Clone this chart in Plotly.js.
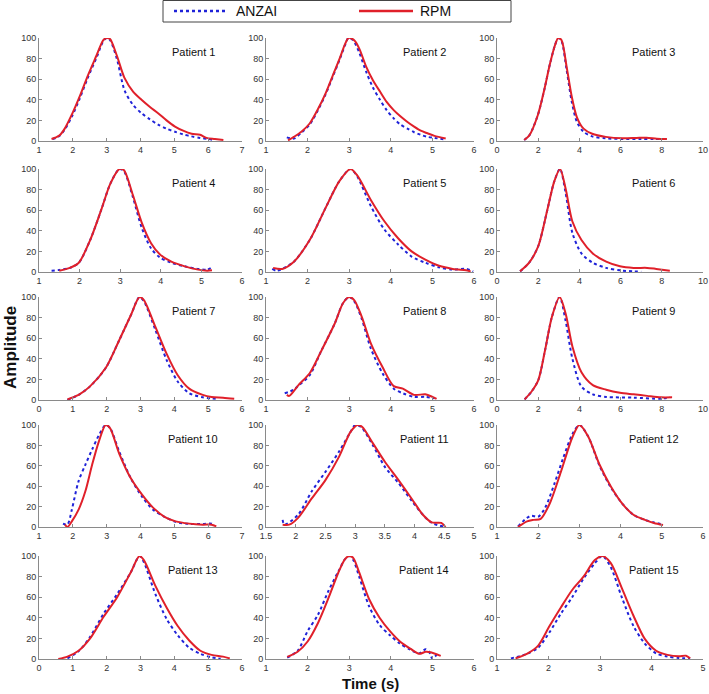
<!DOCTYPE html>
<html>
<head>
<meta charset="utf-8">
<script src="https://cdn.plot.ly/plotly-3.0.1.min.js"></script>
<style>
  html, body { margin: 0; padding: 0; background: #fff; }
  #chart { width: 709px; height: 694px; }
</style>
</head>
<body>
<div id="chart"></div>
<script>
// amplitude curves, time in s, amplitude in %
const p1AnzaiT = [1.4, 1.5, 1.61, 1.76, 1.99, 2.2, 2.45, 2.7, 2.9, 3.0, 3.1, 3.3, 3.53, 3.78, 4.03, 4.28, 4.52, 4.77, 5.02, 5.26, 5.51, 5.76, 6.0, 6.15];
const p1AnzaiA = [2, 3, 5, 11, 25, 41, 62, 81, 97, 100, 98, 80, 49, 35, 27, 21, 16, 12, 9, 6.5, 4.5, 3, 2, 1];
const p1RpmT = [1.37, 1.5, 1.61, 1.76, 1.99, 2.2, 2.45, 2.7, 2.9, 3.0, 3.1, 3.3, 3.53, 3.78, 4.03, 4.28, 4.52, 4.77, 5.02, 5.26, 5.51, 5.76, 5.95, 6.2, 6.45];
const p1RpmA = [2, 3.5, 5.5, 12, 27, 43, 64, 83, 98, 100, 99, 83, 61, 48, 40, 33, 27, 20, 14, 10, 7, 6, 3, 2, 1];

const p2AnzaiT = [1.5, 1.67, 1.85, 2.05, 2.25, 2.43, 2.6, 2.76, 2.9, 2.98, 3.06, 3.14, 3.25, 3.41, 3.57, 3.74, 3.9, 4.07, 4.23, 4.4, 4.56, 4.72, 4.88, 5.05, 5.32];
const p2AnzaiA = [3.5, 2.3, 8, 16, 30, 45, 62, 78, 93, 100, 99, 95, 85, 67, 52, 40, 30, 22, 16, 12, 8.5, 6, 4, 3, 1.3];
const p2RpmT = [1.53, 1.67, 1.85, 2.05, 2.25, 2.43, 2.6, 2.76, 2.9, 2.98, 3.06, 3.14, 3.25, 3.41, 3.57, 3.74, 3.9, 4.07, 4.23, 4.4, 4.56, 4.72, 4.88, 5.05, 5.32];
const p2RpmA = [0.6, 4, 9, 17, 31, 46, 63, 79, 94, 100, 99.5, 97, 89, 72, 59, 48, 38, 30, 24, 18.5, 14, 10, 7.5, 5, 2.5];

const p3AnzaiT = [1.32, 1.57, 1.98, 2.31, 2.56, 2.8, 2.97, 3.13, 3.38, 3.63, 3.88, 4.2, 4.62, 5.28, 6.1, 7.0, 7.6, 8.2];
const p3AnzaiA = [1, 5.5, 25, 51, 74, 92, 100, 97, 69, 38, 18.5, 9, 4.5, 2.6, 2, 2, 2, 2];
const p3RpmT = [1.32, 1.57, 1.98, 2.31, 2.56, 2.8, 2.97, 3.13, 3.38, 3.63, 3.88, 4.2, 4.62, 5.28, 6.1, 6.77, 7.26, 7.76, 8.25];
const p3RpmA = [1, 5.5, 25, 51, 74, 92, 100, 98, 72, 43, 23, 12, 7, 4, 2.6, 3, 3.2, 2.3, 2];

const p4AnzaiT = [1.31, 1.5, 1.76, 1.98, 2.26, 2.53, 2.76, 2.98, 3.09, 3.31, 3.53, 3.76, 3.98, 4.26, 4.59, 4.92, 5.14, 5.26];
const p4AnzaiA = [1.3, 2, 4, 9, 31, 60, 86, 100, 98, 73, 43, 23, 14, 9, 5.5, 3, 2.3, 4.5];
const p4RpmT = [1.5, 1.76, 1.98, 2.26, 2.53, 2.76, 2.98, 3.09, 3.31, 3.53, 3.76, 3.98, 4.26, 4.59, 4.92, 5.14, 5.26];
const p4RpmA = [1.3, 4, 9, 31, 60, 86, 100, 99, 75, 48, 28, 17, 10, 5.5, 2.3, 1.3, 1.6];

const p5AnzaiT = [1.15, 1.25, 1.39, 1.67, 2.05, 2.43, 2.76, 3.03, 3.19, 3.52, 3.85, 4.17, 4.5, 4.83, 5.16, 5.49, 5.81, 5.98];
const p5AnzaiA = [3, 1.3, 3, 10, 31, 62, 88, 100, 93, 64, 41, 27, 15, 9, 4.5, 2.3, 3, 0.6];
const p5RpmT = [1.17, 1.39, 1.67, 2.05, 2.43, 2.76, 3.03, 3.19, 3.52, 3.85, 4.17, 4.5, 4.83, 5.16, 5.49, 5.81, 5.92];
const p5RpmA = [4, 3, 10, 31, 62, 88, 100, 94, 70, 49, 33, 20, 12, 6, 3, 1.6, 0.6];

const p6AnzaiT = [1.12, 1.56, 2.0, 2.44, 2.78, 3.06, 3.33, 3.66, 4.1, 4.65, 5.3, 5.97, 6.63, 7.0];
const p6AnzaiA = [0.6, 9, 25, 60, 88, 100, 77, 38, 18, 9, 4, 1.6, 0.6, 0.3];
const p6RpmT = [1.12, 1.56, 2.0, 2.44, 2.78, 3.06, 3.33, 3.66, 4.1, 4.65, 5.3, 5.97, 6.63, 7.29, 7.73, 8.39];
const p6RpmA = [0.6, 9, 25, 60, 88, 100, 81, 49, 31, 18, 10, 5.5, 4, 4, 3, 1.3];

const p7AnzaiT = [0.84, 1.17, 1.5, 1.97, 2.37, 2.71, 2.97, 3.1, 3.44, 3.77, 4.1, 4.44, 4.84, 5.1, 5.3];
const p7AnzaiA = [0, 5, 13, 31, 58, 82, 100, 96, 68, 39, 18, 6.5, 2.6, 1.6, 1];
const p7RpmT = [0.84, 1.17, 1.5, 1.97, 2.37, 2.71, 2.97, 3.1, 3.44, 3.77, 4.1, 4.44, 4.84, 5.1, 5.44, 5.77];
const p7RpmA = [0.6, 5, 13, 31, 58, 82, 100, 97, 71, 45, 24, 11, 5, 3, 2.3, 1.3];

const p8AnzaiT = [1.45, 1.67, 1.78, 2.05, 2.32, 2.65, 2.85, 3.0, 3.12, 3.3, 3.52, 3.8, 4.07, 4.29, 4.56, 4.83, 5.05];
const p8AnzaiA = [6.5, 10, 14, 24, 47, 74, 94, 100, 96, 79, 50, 26, 11, 6.5, 3, 3, 1.6];
const p8RpmT = [1.5, 1.56, 1.78, 2.05, 2.32, 2.65, 2.85, 3.0, 3.12, 3.3, 3.52, 3.8, 4.07, 4.29, 4.56, 4.83, 5.0, 5.1];
const p8RpmA = [5, 4, 14.5, 26, 47, 74, 94, 100, 97, 81, 55, 32, 13.5, 11, 5, 5.5, 3, 1];

const p9AnzaiT = [1.34, 1.67, 2.0, 2.33, 2.67, 3.04, 3.33, 3.66, 4.1, 4.65, 5.3, 6.63, 7.95, 8.4];
const p9AnzaiA = [0.6, 8, 19, 48, 81, 100, 77, 40, 13, 5.5, 3, 2.3, 1.3, 2.6];
const p9RpmT = [1.34, 1.67, 2.0, 2.33, 2.67, 3.04, 3.33, 3.66, 4.1, 4.65, 5.3, 5.97, 6.63, 7.29, 7.95, 8.5];
const p9RpmA = [0.6, 8, 19, 48, 81, 100, 84, 52, 27, 14.5, 10, 7, 5.5, 4, 2.6, 2.6];

const p10AnzaiT = [1.71, 1.84, 1.97, 2.17, 2.37, 2.57, 2.77, 2.97, 3.1, 3.37, 3.71, 4.04, 4.37, 4.71, 5.04, 5.44, 5.84, 6.1, 6.17];
const p10AnzaiA = [3.3, 2.3, 17, 45, 61, 76, 90, 100, 97, 74, 48, 30, 17, 10, 5, 3, 3, 3.3, 1.3];
const p10RpmT = [1.77, 1.84, 1.97, 2.17, 2.37, 2.57, 2.77, 2.97, 3.1, 3.37, 3.71, 4.04, 4.37, 4.71, 5.04, 5.44, 5.84, 6.1, 6.24];
const p10RpmA = [2.3, 0, 5.5, 17, 35, 61, 84, 100, 97, 72, 48, 32, 19, 10, 5.5, 3.3, 2.3, 2.3, 0.6];

const p11AnzaiT = [1.78, 1.81, 2.04, 2.27, 2.5, 2.73, 2.92, 3.0, 3.1, 3.3, 3.5, 3.73, 3.96, 4.14, 4.29, 4.48];
const p11AnzaiA = [7, 2.3, 12, 35, 54, 74, 93, 100, 98, 80, 59, 43, 25, 12, 4, 0.6];
const p11RpmT = [1.78, 1.89, 2.04, 2.27, 2.5, 2.73, 2.92, 3.04, 3.12, 3.3, 3.5, 3.73, 3.96, 4.14, 4.29, 4.45, 4.52];
const p11RpmA = [2.3, 2.3, 9, 28, 46, 69, 93, 100, 98, 82, 64, 46, 27, 12, 4.5, 4, 0];

const p12AnzaiT = [1.51, 1.73, 1.84, 2.0, 2.17, 2.39, 2.61, 2.83, 3.0, 3.21, 3.49, 3.76, 4.04, 4.31, 4.59, 4.81, 4.97];
const p12AnzaiA = [0.6, 9, 11, 10, 19, 42, 68, 91, 100, 89, 60, 39, 23, 12, 7, 4.5, 3];
const p12RpmT = [1.51, 1.73, 1.89, 2.06, 2.28, 2.55, 2.83, 3.0, 3.21, 3.49, 3.76, 4.04, 4.31, 4.59, 4.81, 5.03];
const p12RpmA = [0, 5.5, 7, 8, 23, 54, 88, 100, 89, 61, 40, 23, 12, 7, 4, 2];

const p13AnzaiT = [0.84, 1.17, 1.5, 1.91, 2.31, 2.71, 2.97, 3.1, 3.44, 3.77, 4.1, 4.44, 4.77, 5.1, 5.37];
const p13AnzaiA = [0.6, 7.5, 21, 44, 63, 84, 100, 94, 63, 39, 23, 11, 5, 1.6, 0.3];
const p13RpmT = [0.57, 0.84, 1.17, 1.5, 1.91, 2.31, 2.71, 2.97, 3.1, 3.44, 3.77, 4.1, 4.44, 4.77, 5.1, 5.44, 5.64];
const p13RpmA = [0, 2.3, 8, 19.5, 41, 60, 84, 100, 96, 71, 50, 32, 18, 8, 4, 2.3, 0.6];

const p14AnzaiT = [1.51, 1.76, 2.0, 2.25, 2.5, 2.74, 2.9, 3.0, 3.1, 3.24, 3.48, 3.73, 3.98, 4.22, 4.47, 4.68, 4.84, 4.92, 5.0, 5.1];
const p14AnzaiA = [1.3, 8, 27, 43, 66, 85, 97, 100, 96, 80, 51, 33, 23, 15, 9, 5.5, 9.5, 7, 0.5, 4];
const p14RpmT = [1.51, 1.76, 2.0, 2.25, 2.5, 2.74, 2.9, 3.0, 3.1, 3.24, 3.48, 3.73, 3.98, 4.22, 4.47, 4.68, 4.84, 4.96, 5.2];
const p14RpmA = [2, 7, 17, 35, 59, 84, 97, 100, 98, 84, 58, 40, 27, 17, 10, 5, 7, 6.5, 3];

const p15AnzaiT = [1.27, 1.58, 1.8, 2.02, 2.24, 2.46, 2.68, 2.9, 3.05, 3.21, 3.43, 3.65, 3.87, 4.09, 4.31, 4.53, 4.75];
const p15AnzaiA = [0.6, 5, 11, 26, 44, 60, 78, 93, 100, 89, 59, 32, 15, 5.5, 2.3, 1, 0.6];
const p15RpmT = [1.36, 1.58, 1.8, 2.02, 2.24, 2.46, 2.68, 2.9, 3.05, 3.21, 3.43, 3.65, 3.87, 4.09, 4.31, 4.53, 4.67, 4.75];
const p15RpmA = [0.6, 5, 13, 32, 50, 67, 80, 96, 100, 93, 68, 42, 19.5, 8, 4, 2.6, 3.2, 0.6];

// x range and tick step of each panel
const xRanges = [[1, 7], [1, 6], [0, 10], [1, 6], [1, 6], [0, 10], [0, 6], [1, 6], [0, 10], [1, 7], [1.5, 5], [1, 6], [0, 6], [1, 6], [1, 5]];
const xSteps = [1, 1, 2, 1, 1, 2, 1, 1, 2, 1, 0.5, 1, 1, 1, 1];
const seriesNames = ["ANZAI", "RPM"];

const anzai = [
  [p1AnzaiT, p1AnzaiA], [p2AnzaiT, p2AnzaiA], [p3AnzaiT, p3AnzaiA], [p4AnzaiT, p4AnzaiA], [p5AnzaiT, p5AnzaiA],
  [p6AnzaiT, p6AnzaiA], [p7AnzaiT, p7AnzaiA], [p8AnzaiT, p8AnzaiA], [p9AnzaiT, p9AnzaiA], [p10AnzaiT, p10AnzaiA],
  [p11AnzaiT, p11AnzaiA], [p12AnzaiT, p12AnzaiA], [p13AnzaiT, p13AnzaiA], [p14AnzaiT, p14AnzaiA], [p15AnzaiT, p15AnzaiA],
];
const rpm = [
  [p1RpmT, p1RpmA], [p2RpmT, p2RpmA], [p3RpmT, p3RpmA], [p4RpmT, p4RpmA], [p5RpmT, p5RpmA],
  [p6RpmT, p6RpmA], [p7RpmT, p7RpmA], [p8RpmT, p8RpmA], [p9RpmT, p9RpmA], [p10RpmT, p10RpmA],
  [p11RpmT, p11RpmA], [p12RpmT, p12RpmA], [p13RpmT, p13RpmA], [p14RpmT, p14RpmA], [p15RpmT, p15RpmA],
];

const W = 709, H = 694;
const colPx = [[39, 242], [266, 474], [497, 703]];
const rowPx = [[38, 141], [169, 272], [297, 400], [425, 527], [556, 659]];
const BLUE = "#1f22d8", RED = "#e0202a";

const FONT = "Liberation Sans, Arial, sans-serif";
const px = (x) => x / W;
const py = (y) => 1 - y / H;

const traces = [];
const layout = {
  width: W,
  height: H,
  margin: { l: 0, r: 0, t: 0, b: 0 },
  paper_bgcolor: "#fff",
  plot_bgcolor: "rgba(0,0,0,0)",
  font: { family: FONT, color: "#222" },
  showlegend: false,
  annotations: [],
  // legend box drawn by hand so the sample lines can be as long as the original
  shapes: [
    { type: "rect", xref: "paper", yref: "paper", x0: px(163), x1: px(511), y0: py(22), y1: py(0.5),
      line: { color: "#444", width: 1 }, fillcolor: "#fff" },
    { type: "line", xref: "paper", yref: "paper", x0: px(174), x1: px(228), y0: py(11), y1: py(11),
      line: { color: BLUE, width: 2.5, dash: "dot" } },
    { type: "line", xref: "paper", yref: "paper", x0: px(359), x1: px(413), y0: py(11), y1: py(11),
      line: { color: RED, width: 2.5 } },
  ],
};

layout.annotations.push(
  { text: seriesNames[0], xref: "paper", yref: "paper", x: px(234), y: py(11), xanchor: "left", yanchor: "middle",
    showarrow: false, font: { size: 14, color: "#111" } },
  { text: seriesNames[1], xref: "paper", yref: "paper", x: px(418), y: py(11), xanchor: "left", yanchor: "middle",
    showarrow: false, font: { size: 14, color: "#111" } },
);

for (let i = 0; i < 15; i++) {
  const n = i + 1;
  const suf = n === 1 ? "" : String(n);
  const row = Math.floor(i / 3), col = i % 3;
  traces.push({
    x: anzai[i][0], y: anzai[i][1], xaxis: "x" + suf, yaxis: "y" + suf,
    type: "scatter", mode: "lines", name: seriesNames[0],
    line: { color: BLUE, width: 2, dash: "dot", shape: "spline", smoothing: 0.8 },
  });
  traces.push({
    x: rpm[i][0], y: rpm[i][1], xaxis: "x" + suf, yaxis: "y" + suf,
    type: "scatter", mode: "lines", name: seriesNames[1],
    line: { color: RED, width: 2, shape: "spline", smoothing: 0.8 },
  });
  const axisStyle = {
    showgrid: false, zeroline: false, showline: true,
    linecolor: "#8a8a8a", linewidth: 1,
    ticks: "inside", ticklen: 3, tickcolor: "#8a8a8a",
    tickfont: { size: 9, color: "#333", family: FONT },
    fixedrange: true,
  };
  layout["xaxis" + suf] = {
    ...axisStyle,
    domain: [px(colPx[col][0]), px(colPx[col][1])],
    range: xRanges[i], dtick: xSteps[i], tick0: 0,
    anchor: "y" + suf,
  };
  layout["yaxis" + suf] = {
    ...axisStyle,
    domain: [py(rowPx[row][1]), py(rowPx[row][0])],
    range: [0, 100], dtick: 20,
    anchor: "x" + suf,
  };
  layout.annotations.push({
    text: "Patient " + n, xref: "x" + suf + " domain", yref: "y" + suf + " domain",
    x: 0.76, y: 0.865, xanchor: "center", yanchor: "middle", showarrow: false,
    font: { size: 11, color: "#111" },
  });
}

layout.annotations.push({
  text: "<b>Amplitude</b>", xref: "paper", yref: "paper", x: px(10), y: py(348),
  textangle: -90, showarrow: false, xanchor: "center", yanchor: "middle",
  font: { size: 17, color: "#111" },
});
layout.annotations.push({
  text: "<b>Time (s)</b>", xref: "paper", yref: "paper", x: px(370), y: py(683),
  showarrow: false, xanchor: "center", yanchor: "middle",
  font: { size: 15, color: "#111" },
});

Plotly.newPlot("chart", traces, layout, { staticPlot: true, displayModeBar: false });
</script>
</body>
</html>
